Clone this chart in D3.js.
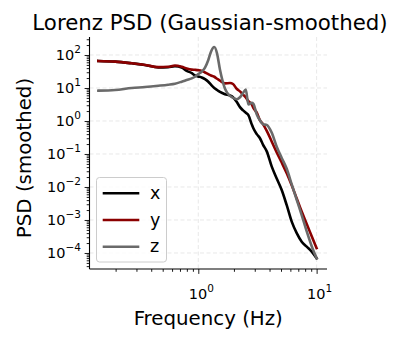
<!DOCTYPE html>
<html>
<head>
<meta charset="utf-8">
<script src="https://cdn.jsdelivr.net/npm/d3@7"></script>
<style>
  html, body { margin: 0; padding: 0; background: #fff; }
  svg { display: block; font-family: "DejaVu Sans", sans-serif; }
</style>
</head>
<body>
<svg id="chart" width="400" height="340"></svg>
<script>
// Frequency grid (Hz) shared by the three smoothed spectra
const freq = [0.143, 0.198, 0.274, 0.354, 0.459, 0.555, 0.635, 0.724, 0.798, 0.880,
  0.938, 1.0, 1.069, 1.139, 1.215, 1.280, 1.365, 1.439, 1.525, 1.681,
  1.853, 1.965, 2.11, 2.25, 2.39, 2.52, 2.65, 2.83, 2.92, 3.12,
  3.32, 3.53, 3.79, 4.17, 4.60, 5.07, 5.59, 6.16, 6.79, 7.48,
  8.25, 9.09, 10.0];

const psdX = [66, 63, 56, 50, 41.7, 42.7, 45.7, 41.7, 33.1, 28.2,
  24, 22.4, 20.9, 18.6, 15.5, 12.6, 10, 8.7, 7.6, 6.5,
  5.9, 5.25, 3.8, 2.63, 2.09, 1.78, 1.51, 0.79, 0.60, 0.40,
  0.30, 0.19, 0.12, 0.042, 0.018, 0.0081, 0.0028, 8.9e-4, 4.0e-4, 2.2e-4,
  1.55e-4, 1.1e-4, 6.9e-5];

const psdY = [66, 63, 56, 50, 43, 44, 48, 44, 39, 36,
  35.5, 34.7, 33, 29.5, 26.3, 24, 21.9, 19.1, 16.6, 13.8,
  14.1, 13.2, 9.5, 7.9, 6.3, 5.2, 4.0, 3.2, 2.5, 1.78,
  1.05, 0.79, 0.50, 0.24, 0.112, 0.055, 0.026, 0.0112, 0.0045, 0.0018,
  7.6e-4, 3.2e-4, 1.4e-4];

const psdZ = [8.3, 8.7, 10, 10.7, 11.7, 12.6, 13.5, 15.5, 17.4, 19.5,
  21.9, 26.3, 31.6, 41.7, 70.8, 126, 174, 112, 35.5, 9.5,
  5.75, 5.0, 4.57, 5.25, 7.08, 8.9, 3.16, 3.55, 3.31, 1.58,
  1.05, 0.79, 0.76, 0.447, 0.166, 0.076, 0.0355, 0.012, 0.0041, 0.0014,
  4.5e-4, 1.6e-4, 6.9e-5];

const seriesNames = ["x", "y", "z"];
const seriesColors = ["#000000", "#8b0000", "#6a6a6a"];
const xTickValues = [1, 10];
const yTickValues = [1e2, 1e1, 1e0, 1e-1, 1e-2, 1e-3, 1e-4];

const series = [psdX, psdY, psdZ].map((vals, i) => ({
  name: seriesNames[i], color: seriesColors[i],
  points: freq.map((f, j) => [f, vals[j]])
}));

const svg = d3.select("#chart");
const plot = { left: 89.5, right: 327, top: 37, bottom: 269 };

const x = d3.scaleLog().domain([0.1203, 12.24]).range([plot.left, plot.right]);
const y = d3.scaleLog().domain([3.27e-5, 350.8]).range([plot.bottom, plot.top]);

const exps = { "-4": "\u22124", "-3": "\u22123", "-2": "\u22122", "-1": "\u22121", "0": "0", "1": "1", "2": "2" };

// Dashed grid at major decades
const grid = svg.append("g").attr("stroke", "#b0b0b0").attr("stroke-opacity", 0.35)
  .attr("stroke-width", 0.8).attr("stroke-dasharray", "4,2.5");
xTickValues.forEach(v => grid.append("line")
  .attr("x1", x(v)).attr("x2", x(v)).attr("y1", plot.top).attr("y2", plot.bottom));
yTickValues.forEach(v => grid.append("line")
  .attr("x1", plot.left).attr("x2", plot.right).attr("y1", y(v)).attr("y2", y(v)));

// Curves
const line = d3.line().x(d => x(d[0])).y(d => y(d[1])).curve(d3.curveMonotoneX);
const lines = svg.append("g");
series.forEach(s => lines.append("path")
  .attr("d", line(s.points)).attr("fill", "none")
  .attr("stroke", s.color).attr("stroke-width", 2.6)
  .attr("stroke-linejoin", "round").attr("stroke-linecap", "square"));

// Axes with major and minor log ticks
const xMinor = [];
[0.1, 1, 10].forEach(dec => { for (let k = 2; k <= 9; k++) { const v = dec * k; if (v >= 0.1203 && v <= 12.24) xMinor.push(v); } });
const yMinor = [];
[1e-5, 1e-4, 1e-3, 1e-2, 1e-1, 1, 10, 100].forEach(dec => { for (let k = 2; k <= 9; k++) { const v = dec * k; if (v >= 3.27e-5 && v <= 350.8) yMinor.push(v); } });

const xAxis = svg.append("g").attr("transform", `translate(0,${plot.bottom})`)
  .call(d3.axisBottom(x).tickValues(xTickValues).tickSize(4.9).tickFormat(""));
xAxis.append("g").call(d3.axisBottom(x).tickValues(xMinor).tickSize(2.8).tickFormat(""))
  .select(".domain").remove();
const yAxis = svg.append("g").attr("transform", `translate(${plot.left},0)`)
  .call(d3.axisLeft(y).tickValues(yTickValues).tickSize(4.9).tickFormat(""));
yAxis.append("g").call(d3.axisLeft(y).tickValues(yMinor).tickSize(2.8).tickFormat(""))
  .select(".domain").remove();
[xAxis, yAxis].forEach(a => {
  a.selectAll(".domain").attr("stroke", "#000").attr("stroke-width", 1.1);
  a.selectAll(".tick line").attr("stroke", "#000").attr("stroke-width", 0.9);
});
// plain spines without end caps
xAxis.select(".domain").attr("d", `M${plot.left},0H${plot.right}`);
yAxis.select(".domain").attr("d", `M0,${plot.top}V${plot.bottom}`);

// Tick labels: 10 with superscript exponent
function powLabel(g, px, py, e, anchor) {
  const t = g.append("text").attr("x", px).attr("y", py).attr("text-anchor", anchor)
    .attr("font-size", 14.5).attr("fill", "#000");
  t.append("tspan").text("10");
  t.append("tspan").attr("dy", -7).attr("font-size", 10.5).text(exps[String(e)]);
}
const labels = svg.append("g");
xTickValues.forEach(v => powLabel(labels, x(v) + 3, 298.5, Math.round(Math.log10(v)), "middle"));
yTickValues.forEach(v => powLabel(labels, 81, y(v) + 5.5, Math.round(Math.log10(v)), "end"));

// Titles
svg.append("text").attr("x", 210).attr("y", 29.5)
  .attr("text-anchor", "middle").attr("font-size", 21.3).text("Lorenz PSD (Gaussian-smoothed)");
svg.append("text").attr("x", (plot.left + plot.right) / 2).attr("y", 324.5)
  .attr("text-anchor", "middle").attr("font-size", 19.8).text("Frequency (Hz)");
svg.append("text").attr("transform", `translate(30.5,${(plot.top + plot.bottom) / 2 + 5}) rotate(-90)`)
  .attr("text-anchor", "middle").attr("font-size", 19.8).text("PSD (smoothed)");

// Legend
const lg = svg.append("g");
lg.append("rect").attr("x", 96.5).attr("y", 177.5).attr("width", 70).attr("height", 84.5)
  .attr("rx", 3).attr("fill", "#fff").attr("fill-opacity", 0.8)
  .attr("stroke", "#cccccc").attr("stroke-width", 1);
series.forEach((s, i) => {
  const yy = 193.3 + i * 26.7;
  lg.append("line").attr("x1", 102.7).attr("x2", 139.3).attr("y1", yy).attr("y2", yy)
    .attr("stroke", s.color).attr("stroke-width", 2.6);
  lg.append("text").attr("x", 150).attr("y", yy + 5.5).attr("font-size", 17.5).text(s.name);
});
</script>
</body>
</html>
